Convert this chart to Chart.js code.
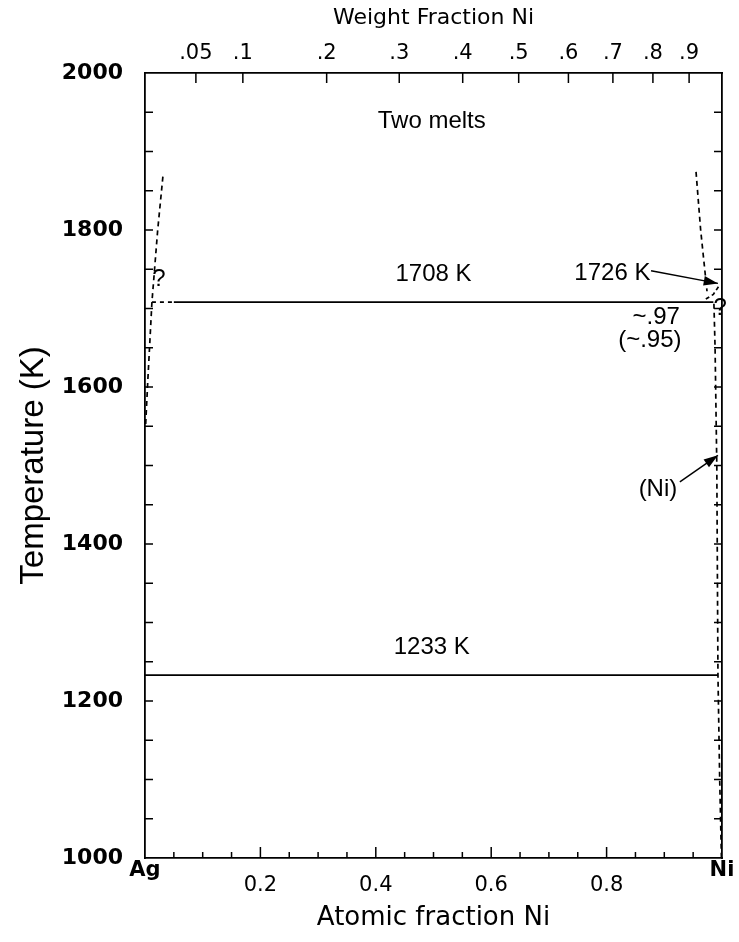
<!DOCTYPE html>
<html>
<head>
<meta charset="utf-8">
<script src="https://cdn.jsdelivr.net/npm/chart.js@4.4.0/dist/chart.umd.min.js"></script>
<style>
  html, body { margin: 0; padding: 0; background: #fff; }
  #wrap { width: 739px; height: 942px; }
</style>
</head>
<body>
<div id="wrap"><canvas id="grafico"></canvas></div>
<script>
// eixos
const tempTicks = [1000, 1200, 1400, 1600, 1800, 2000];
const atomicTicks = [0, 0.2, 0.4, 0.6, 0.8, 1];
const weightTicks = [0.05, 0.1, 0.2, 0.3, 0.4, 0.5, 0.6, 0.7, 0.8, 0.9];
const weightLabels = ['.05', '.1', '.2', '.3', '.4', '.5', '.6', '.7', '.8', '.9'];
const massNi = 58.69, massAg = 107.87;

// linhas do diagrama (fração atômica Ni, K)
const monotectic = [[0.012, 1708], [0.05, 1708], [0.985, 1708]];
const eutectic = [[0, 1233], [0.993, 1233]];
const agLiquid = [[0.031, 1868], [0.022, 1800], [0.012, 1708], [0.005, 1610], [0.001, 1550]];
const niLiquid = [[0.955, 1874], [0.963, 1800], [0.974, 1722]];
const niMelt = [[0.972, 1712], [0.985, 1718], [0.996, 1730]];
const niSolvus = [[0.986, 1706], [0.988, 1650], [0.991, 1500], [0.993, 1233], [0.996, 1100], [0.999, 1000]];

// textos
const labels = [
  { text: 'Two melts', x: 0.497, y: 1938 },
  { text: '1708 K', x: 0.5, y: 1743 },
  { text: '1726 K', x: 0.81, y: 1745 },
  { text: '~.97', x: 0.886, y: 1689 },
  { text: '(~.95)', x: 0.875, y: 1660 },
  { text: '(Ni)', x: 0.889, y: 1469 },
  { text: '1233 K', x: 0.497, y: 1268 },
  { text: '?', x: 0.024, y: 1737 },
  { text: '?', x: 0.997, y: 1700 }
];
const arrows = [
  { from: [0.877, 1748], to: [0.993, 1732] },
  { from: [0.927, 1479], to: [0.993, 1513] }
];

const toAtomic = w => (w / massNi) / (w / massNi + (1 - w) / massAg);
const pts = arr => arr.map(p => ({ x: p[0], y: p[1] }));

function linha(arr, dash, extra) {
  return Object.assign({
    data: pts(arr),
    borderColor: '#000',
    borderWidth: 1.7,
    borderDash: dash || [],
    pointRadius: 0,
    showLine: true,
    fill: false,
    tension: 0
  }, extra || {});
}

const marcas = {
  id: 'marcas',
  afterDatasetsDraw(chart) {
    const ctx = chart.ctx;
    const x = chart.scales.x, y = chart.scales.y;
    const ca = chart.chartArea;
    ctx.save();
    ctx.strokeStyle = '#000';
    ctx.lineWidth = 1.5;
    // ticks para dentro
    ctx.beginPath();
    for (let t = 1050; t < 2000; t += 50) {
      const py = y.getPixelForValue(t);
      ctx.moveTo(ca.left, py); ctx.lineTo(ca.left + 8, py);
      ctx.moveTo(ca.right, py); ctx.lineTo(ca.right - 8, py);
    }
    for (let i = 1; i < 20; i++) {
      const px = x.getPixelForValue(i * 0.05);
      ctx.moveTo(px, ca.bottom); ctx.lineTo(px, ca.bottom - (i % 4 === 0 ? 11 : 6));
    }
    weightTicks.forEach(w => {
      const px = x.getPixelForValue(toAtomic(w));
      ctx.moveTo(px, ca.top); ctx.lineTo(px, ca.top + 10);
    });
    ctx.stroke();

    // setas
    arrows.forEach(a => {
      const x0 = x.getPixelForValue(a.from[0]), y0 = y.getPixelForValue(a.from[1]);
      const x1 = x.getPixelForValue(a.to[0]), y1 = y.getPixelForValue(a.to[1]);
      const ang = Math.atan2(y1 - y0, x1 - x0);
      ctx.beginPath();
      ctx.moveTo(x0, y0); ctx.lineTo(x1, y1);
      ctx.stroke();
      ctx.beginPath();
      ctx.moveTo(x1, y1);
      ctx.lineTo(x1 - 15 * Math.cos(ang - 0.32), y1 - 15 * Math.sin(ang - 0.32));
      ctx.lineTo(x1 - 15 * Math.cos(ang + 0.32), y1 - 15 * Math.sin(ang + 0.32));
      ctx.closePath();
      ctx.fillStyle = '#000';
      ctx.fill();
    });

    // textos
    ctx.fillStyle = '#000';
    ctx.font = '24px "Liberation Sans", Arial, sans-serif';
    ctx.textAlign = 'center';
    ctx.textBaseline = 'middle';
    labels.forEach(l => {
      ctx.fillText(l.text, x.getPixelForValue(l.x), y.getPixelForValue(l.y));
    });

    // Ag / Ni no eixo de baixo
    ctx.font = 'bold 21px "DejaVu Sans", sans-serif';
    ctx.textBaseline = 'top';
    ctx.fillText('Ag', x.getPixelForValue(0), ca.bottom + 2);
    ctx.fillText('Ni', x.getPixelForValue(1), ca.bottom + 2);
    ctx.restore();
  }
};

new Chart(document.getElementById('grafico'), {
  type: 'scatter',
  data: {
    datasets: [
      linha(monotectic, null, { segment: { borderDash: c => c.p0DataIndex === 0 ? [4, 4] : [] } }),
      linha(eutectic),
      linha(agLiquid, [5, 4]),
      linha(niLiquid, [5, 4]),
      linha(niMelt, [4, 3]),
      linha(niSolvus, [5, 4])
    ]
  },
  plugins: [marcas],
  options: {
    responsive: true,
    maintainAspectRatio: false,
    animation: false,
    layout: { padding: 0 },
    plugins: { legend: { display: false }, tooltip: { enabled: false } },
    scales: {
      x: {
        type: 'linear', position: 'bottom', min: 0, max: 1,
        afterFit: s => { s.height = 84; },
        afterBuildTicks: s => { s.ticks = atomicTicks.map(v => ({ value: v })); },
        grid: { drawOnChartArea: false, drawTicks: false },
        border: { color: '#000', width: 1.8 },
        ticks: {
          color: '#000', padding: 15, maxRotation: 0,
          font: { family: '"DejaVu Sans", sans-serif', size: 21 },
          callback: v => (v === 0 || v === 1) ? '' : v.toFixed(1)
        },
        title: {
          display: true, text: 'Atomic fraction Ni', color: '#000',
          font: { family: '"DejaVu Sans", sans-serif', size: 26 },
          padding: { top: 0, bottom: 8 }
        }
      },
      xTop: {
        type: 'linear', position: 'top', min: 0, max: 1,
        afterFit: s => { s.height = 73; },
        afterBuildTicks: s => { s.ticks = weightTicks.map(w => ({ value: toAtomic(w) })); },
        grid: { drawOnChartArea: false, drawTicks: false },
        border: { color: '#000', width: 1.8 },
        ticks: {
          color: '#000', padding: 7, maxRotation: 0, autoSkip: false,
          font: { family: '"DejaVu Sans", sans-serif', size: 21 },
          callback: (v, i) => weightLabels[i]
        },
        title: {
          display: true, text: 'Weight Fraction Ni', color: '#000',
          font: { family: '"DejaVu Sans", sans-serif', size: 22 },
          padding: { top: 5, bottom: 0 }
        }
      },
      y: {
        type: 'linear', position: 'left', min: 1000, max: 2000,
        afterFit: s => { s.width = 145; },
        afterBuildTicks: s => { s.ticks = tempTicks.map(v => ({ value: v })); },
        grid: { drawOnChartArea: false, drawTicks: false },
        border: { color: '#000', width: 1.8 },
        ticks: {
          color: '#000', padding: 22,
          font: { family: '"DejaVu Sans", sans-serif', size: 22, weight: 'bold' },
          callback: v => String(v)
        },
        title: {
          display: true, text: 'Temperature (K)', color: '#000',
          font: { family: '"Liberation Sans", Arial, sans-serif', size: 33 },
          padding: { top: 14, bottom: 0 }
        }
      },
      y2: {
        type: 'linear', position: 'right', min: 1000, max: 2000,
        afterFit: s => { s.width = 17; },
        grid: { drawOnChartArea: false, drawTicks: false },
        border: { color: '#000', width: 1.8 },
        ticks: { display: false }
      }
    }
  }
});
</script>
</body>
</html>
